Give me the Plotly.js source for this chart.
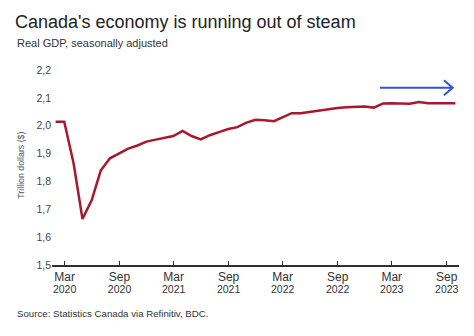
<!DOCTYPE html>
<html>
<head>
<meta charset="utf-8">
<script src="https://cdn.plot.ly/plotly-3.0.1.min.js"></script>
<style>html,body{margin:0;padding:0;background:#fff;}#chart{width:474px;height:336px;}</style>
</head>
<body>
<div id="chart"></div>
<script>
// Months (monthly data, Jan 2020 – Sep 2023)
const months = [
  '2020-01','2020-02','2020-03','2020-04','2020-05','2020-06','2020-07','2020-08','2020-09','2020-10','2020-11','2020-12',
  '2021-01','2021-02','2021-03','2021-04','2021-05','2021-06','2021-07','2021-08','2021-09','2021-10','2021-11','2021-12',
  '2022-01','2022-02','2022-03','2022-04','2022-05','2022-06','2022-07','2022-08','2022-09','2022-10','2022-11','2022-12',
  '2023-01','2023-02','2023-03','2023-04','2023-05','2023-06','2023-07','2023-08','2023-09'
];
// Real GDP, trillion dollars
const gdp = [
  2.014, 2.014, 1.866, 1.665, 1.733, 1.839, 1.883, 1.901, 1.918, 1.929, 1.943, 1.950,
  1.956, 1.963, 1.981, 1.963, 1.951, 1.966, 1.977, 1.988, 1.995, 2.011, 2.021, 2.020,
  2.016, 2.030, 2.045, 2.045, 2.050, 2.056, 2.059, 2.064, 2.066, 2.067, 2.069, 2.065,
  2.080, 2.081, 2.081, 2.079, 2.085, 2.081, 2.081, 2.081, 2.081
];
const tickDates = ['2020-03-01','2020-09-01','2021-03-01','2021-09-01','2022-03-01','2022-09-01','2023-03-01','2023-09-01'];
const tickMonths = ['Mar','Sep','Mar','Sep','Mar','Sep','Mar','Sep'];
const tickYears = ['2020','2020','2021','2021','2022','2022','2023','2023'];
const yTicks = [1.5, 1.6, 1.7, 1.8, 1.9, 2.0, 2.1, 2.2];

// month-end dates
const xDates = months.map(m => {
  const [y, mo] = m.split('-').map(Number);
  const d = new Date(Date.UTC(y, mo, 0));
  return d.toISOString().slice(0, 10);
});

const FONT = 'Liberation Sans, Arial, sans-serif';
const ticktext = tickMonths.map((m, i) =>
  "<span style='font-size:12px;'>" + m + "</span><br><span style='font-size:10.5px;'>" + tickYears[i] + "</span>");

const trace = {
  type: 'scatter', mode: 'lines', x: xDates, y: gdp,
  line: {color: '#A6192E', width: 2.5}, hoverinfo: 'skip'
};

const layout = {
  width: 474, height: 336,
  margin: {l: 52, r: 15, t: 70, b: 71},
  paper_bgcolor: '#fff', plot_bgcolor: '#fff',
  separators: ',.',
  showlegend: false,
  font: {family: FONT, color: '#333'},
  title: {
    text: "Canada's economy is running out of steam",
    x: 15/474, xref: 'container', xanchor: 'left',
    y: 1 - 22/336, yref: 'container', yanchor: 'middle',
    font: {family: FONT, size: 18, color: '#222'}
  },
  xaxis: {
    type: 'date', range: ['2020-01-19', '2023-10-12'],
    tickmode: 'array', tickvals: tickDates, ticktext: ticktext,
    showline: true, linecolor: '#2e2e38', linewidth: 2,
    ticks: 'inside', ticklen: 4, tickcolor: '#2e2e38', tickwidth: 1,
    ticklabelstandoff: 3,
    showgrid: false, zeroline: false,
    tickfont: {family: FONT, size: 9, color: '#333'}
  },
  yaxis: {
    range: [1.5, 2.2], tickmode: 'array', tickvals: yTicks, tickformat: '.1f',
    showgrid: false, zeroline: false, showline: false, ticks: '',
    tickfont: {family: FONT, size: 10.5, color: '#444'}
  },
  annotations: [
    {text: 'Real GDP, seasonally adjusted', xref: 'paper', yref: 'paper',
     x: (15-52)/407, y: (265-43)/195, xanchor: 'left', yanchor: 'middle', showarrow: false,
     font: {family: FONT, size: 11, color: '#333'}},
    {text: 'Trillion dollars ($)', xref: 'paper', yref: 'paper', textangle: -90,
     x: (20.7-52)/407, y: (265-165)/195, xanchor: 'center', yanchor: 'middle', showarrow: false,
     font: {family: FONT, size: 8.8, color: '#555'}},
    {text: 'Source: Statistics Canada via Refinitiv, BDC.', xref: 'paper', yref: 'paper',
     x: (15-52)/407, y: (265-313)/195, xanchor: 'left', yanchor: 'middle', showarrow: false,
     font: {family: FONT, size: 9.7, color: '#333'}}
  ],
  shapes: [
    {type: 'line', xref: 'paper', yref: 'paper', x0: 0.806, x1: 0.984, y0: 0.909, y1: 0.909,
     line: {color: '#2F55D4', width: 2}},
    {type: 'path', xref: 'paper', yref: 'paper', path: 'M 0.963 0.948 L 0.9845 0.909 L 0.963 0.870',
     line: {color: '#2F55D4', width: 2}}
  ]
};

Plotly.newPlot('chart', [trace], layout, {displayModeBar: false, staticPlot: true});
</script>
</body>
</html>
